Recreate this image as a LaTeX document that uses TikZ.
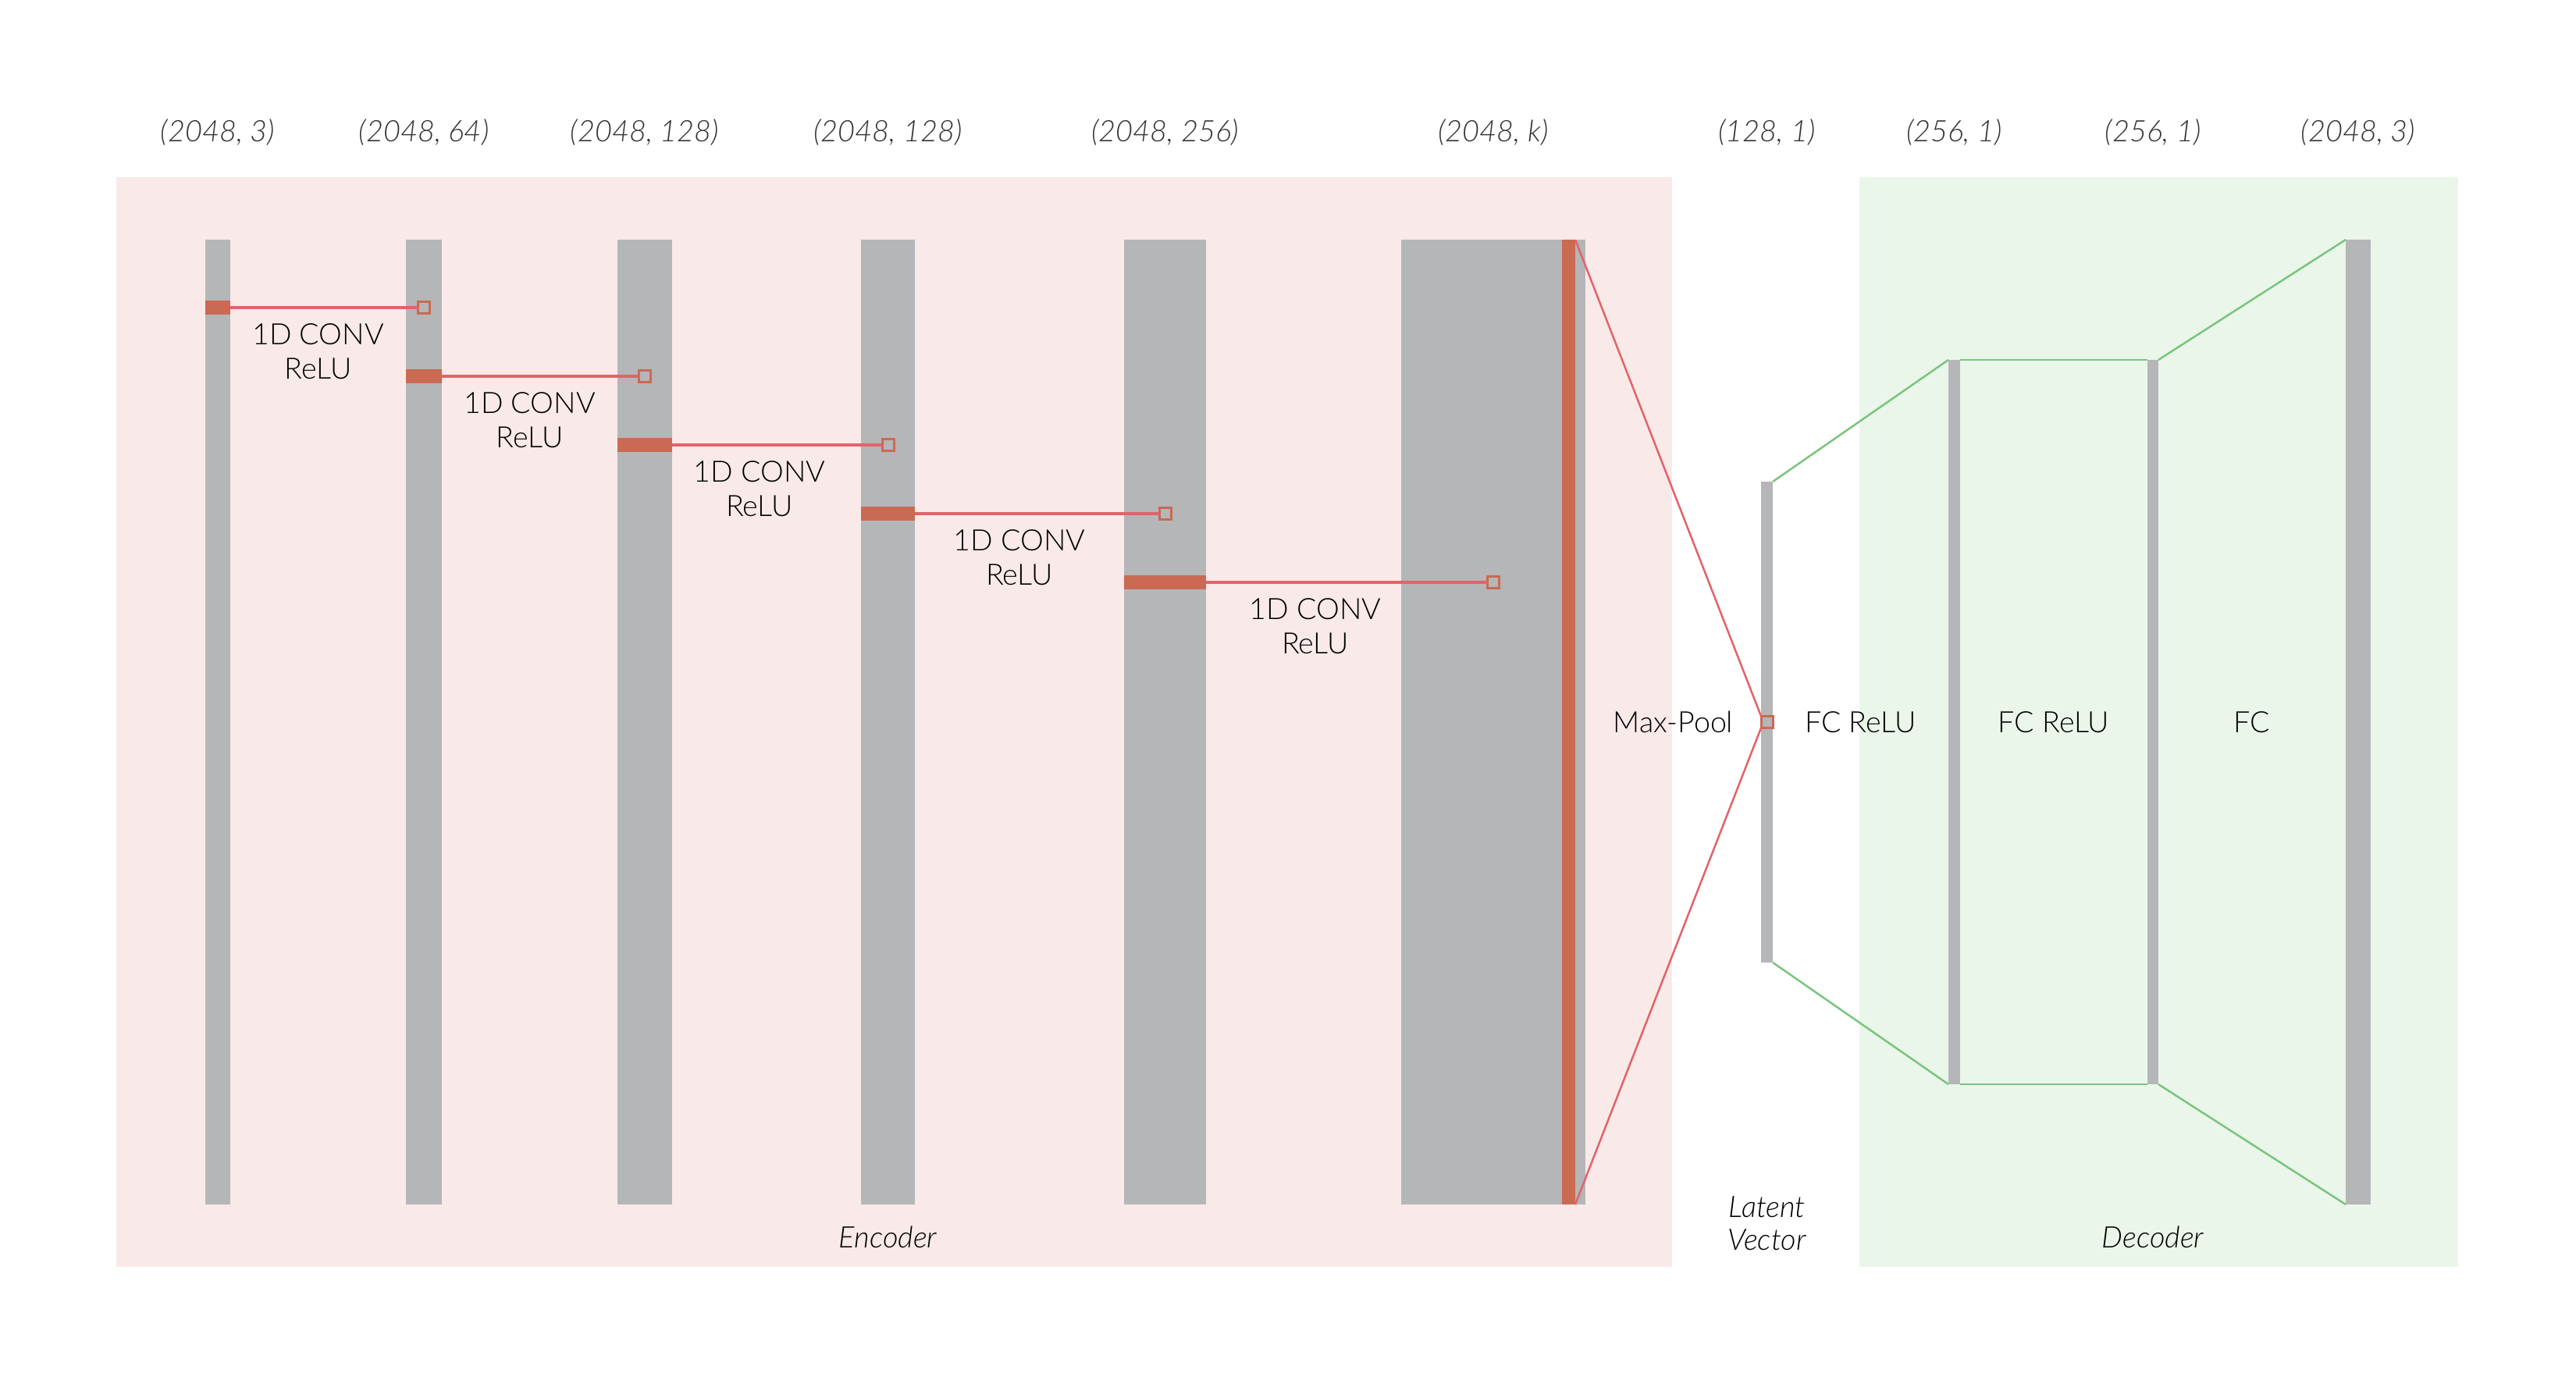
\documentclass[tikz,border=0pt]{standalone}
\usepackage{fontspec}
\setmainfont{Lato Light}
\usetikzlibrary{calc}
\usetikzlibrary{positioning}

\definecolor{encbg}{RGB}{249,233,233}
\definecolor{decbg}{RGB}{234,246,234}
\definecolor{bargray}{RGB}{181,182,184}
\definecolor{terra}{RGB}{201,106,82}
\definecolor{redline}{RGB}{226,99,106}
\definecolor{greenline}{RGB}{123,196,126}

\begin{document}
\begin{tikzpicture}
        \tikzset{bar/.style= {fill=bargray, inner sep=0pt, outer sep=0pt, minimum height=12.36cm},
        sbar/.style= {fill=bargray, inner sep=0pt, outer sep=0pt, minimum width=0.15cm},
        rblk/.style={fill=terra, inner sep=0pt, outer sep=0pt, minimum height=0.18cm},
        sq/.style={draw=terra, fill=bargray, line width=0.03cm, inner sep=0pt, outer sep=0pt, minimum size=0.15cm},
        lbl/.style={align=center, inner sep=0pt, font=\fontsize{10.7}{12.5}\selectfont},
        dimtxt/.style={inner sep=0pt, text=black!80, font=\fontsize{10.8}{12.5}\selectfont\itshape},
        captxt/.style={align=center, inner sep=0pt, font=\fontsize{10.8}{12}\selectfont\itshape},
        rline/.style={draw=redline, line width=0.035cm},
        pline/.style={draw=redline, line width=0.025cm},
        gline/.style={draw=greenline, line width=0.025cm},
        }
        \useasboundingbox (0,0) rectangle (33,17.63);
        \fill[encbg] (1.49,1.40) rectangle (21.42,15.36);
        \fill[decbg] (23.82,1.40) rectangle (31.49,15.36);

%% encoder
        \node [bar, minimum width=0.32cm] (bar1) at (2.79,8.38) {};
        \node [bar, minimum width=0.46cm, right=2.25cm of bar1] (bar2) {};
        \node [bar, minimum width=0.70cm, right=2.25cm of bar2] (bar3) {};
        \node [bar, minimum width=0.69cm, right=2.42cm of bar3] (bar4) {};
        \node [bar, minimum width=1.05cm, right=2.68cm of bar4] (bar5) {};
        \node [bar, minimum width=2.36cm, right=2.50cm of bar5] (bar6) {};
        \node [bar, fill=terra, minimum width=0.17cm, anchor=east] (pool) at ([xshift=-0.13cm]bar6.east) {};

%% latent + decoder
        \node [sbar, minimum height=6.16cm, right=2.25cm of bar6] (latent) {};
        \node [sbar, minimum height=9.28cm, right=2.25cm of latent] (fc1) {};
        \node [sbar, minimum height=9.28cm, minimum width=0.14cm, right=2.40cm of fc1] (fc2) {};
        \node [bar, minimum width=0.32cm, right=2.40cm of fc2] (out) {};

%% conv blocks
        \node [rblk, minimum width=0.32cm] (r1) at ([yshift=-0.87cm]bar1.north) {};
        \node [rblk, minimum width=0.46cm] (r2) at ([yshift=-1.75cm]bar2.north) {};
        \node [rblk, minimum width=0.70cm] (r3) at ([yshift=-2.63cm]bar3.north) {};
        \node [rblk, minimum width=0.69cm] (r4) at ([yshift=-3.51cm]bar4.north) {};
        \node [rblk, minimum width=1.05cm] (r5) at ([yshift=-4.39cm]bar5.north) {};
        \node [sq] (s1) at (bar2 |- r1) {};
        \node [sq] (s2) at (bar3 |- r2) {};
        \node [sq] (s3) at (bar4 |- r3) {};
        \node [sq] (s4) at (bar5 |- r4) {};
        \node [sq] (s5) at (bar6 |- r5) {};
        \node [sq] (lsq) at (latent.center) {};

        \coordinate (m1) at ($(r1.east)!.5!(bar2.west |- r1)$);
        \coordinate (m2) at ($(r2.east)!.5!(bar3.west |- r2)$);
        \coordinate (m3) at ($(r3.east)!.5!(bar4.west |- r3) + (-0.09,0)$);
        \coordinate (m4) at ($(r4.east)!.5!(bar5.west |- r4)$);
        \coordinate (m5) at ($(r5.east)!.5!(bar6.west |- r5) + (0.15,0)$);
        \node [lbl, below=0.2cm of m1] (c1) {1D CONV\\ReLU};
        \node [lbl, below=0.2cm of m2] (c2) {1D CONV\\ReLU};
        \node [lbl, below=0.2cm of m3] (c3) {1D CONV\\ReLU};
        \node [lbl, below=0.2cm of m4] (c4) {1D CONV\\ReLU};
        \node [lbl, below=0.2cm of m5] (c5) {1D CONV\\ReLU};

        \node [lbl] (pool_lbl) at ($(bar6.east)!.5!(latent.west)$) {Max-Pool};
        \node [lbl] (fc1_lbl) at ($(latent.east)!.5!(fc1.west)$) {FC ReLU};
        \node [lbl] (fc2_lbl) at ($(fc1.east)!.5!(fc2.west)$) {FC ReLU};
        \node [lbl] (out_lbl) at ($(fc2.east)!.5!(out.west)$) {FC};

%% shapes on top
        \coordinate (dimrow) at (0,15.81);
        \node [dimtxt, anchor=base] (d1) at (bar1 |- dimrow) {(2048, 3)};
        \node [dimtxt, anchor=base] (d2) at (bar2 |- dimrow) {(2048, 64)};
        \node [dimtxt, anchor=base] (d3) at (bar3 |- dimrow) {(2048, 128)};
        \node [dimtxt, anchor=base] (d4) at (bar4 |- dimrow) {(2048, 128)};
        \node [dimtxt, anchor=base] (d5) at (bar5 |- dimrow) {(2048, 256)};
        \node [dimtxt, anchor=base] (d6) at (bar6 |- dimrow) {(2048, \textit{k})};
        \node [dimtxt, anchor=base] (d7) at (latent |- dimrow) {(128, 1)};
        \node [dimtxt, anchor=base] (d8) at (fc1 |- dimrow) {(256, 1)};
        \node [dimtxt, anchor=base] (d9) at (fc2 |- dimrow) {(256, 1)};
        \node [dimtxt, anchor=base] (d10) at (out |- dimrow) {(2048, 3)};

%% captions
        \coordinate (caprow) at (0,1.65);
        \node [captxt, anchor=base] (enc_cap) at (bar4 |- caprow) {Encoder};
        \node [captxt, anchor=north] (lat_cap) at ($(latent |- caprow) + (0,0.66)$) {Latent\\Vector};
        \node [captxt, anchor=base] (dec_cap) at (fc2 |- caprow) {Decoder};

%% paths
        \path[rline] (r1.east) -- (s1.west)
                    (r2.east) -- (s2.west)
                    (r3.east) -- (s3.west)
                    (r4.east) -- (s4.west)
                    (r5.east) -- (s5.west);
        \path[pline] (pool.north east) -- (lsq.north west)
                    (pool.south east) -- (lsq.south west);
        \path[gline] (latent.north east) edge (fc1.north west)
                    (latent.south east) edge (fc1.south west)
                    (fc1.north east) edge (fc2.north west)
                    (fc1.south east) edge (fc2.south west)
                    (fc2.north east) edge (out.north west)
                    (fc2.south east) edge (out.south west);
\end{tikzpicture}
\end{document}
